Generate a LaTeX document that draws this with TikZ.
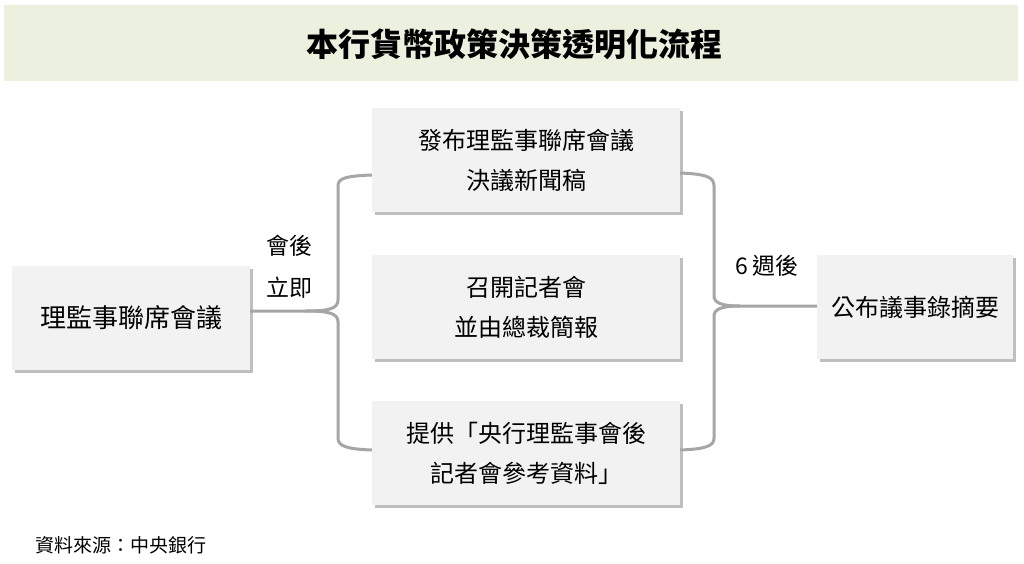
\documentclass[tikz,border=0pt]{standalone}
\usepackage{fontspec}
\setmainfont{Noto Sans CJK TC}
\usetikzlibrary{shadows}
\definecolor{titlebg}{RGB}{235,241,222}
\definecolor{boxbg}{RGB}{242,242,242}
\definecolor{linegray}{RGB}{166,166,166}
\tikzset{
  procbox/.style={draw=none, fill=boxbg, minimum height=104pt, inner sep=0pt,
    align=center, font=\fontsize{24}{40}\selectfont,
    drop shadow={shadow xshift=2.5pt, shadow yshift=-3pt, fill=black, opacity=0.25}},
  conn/.style={draw=linegray, line width=3pt, line join=round},
  lbl/.style={font=\fontsize{23}{28}\selectfont, inner sep=0pt}
}
\begin{document}
\begin{tikzpicture}[x=1pt,y=-1pt]
\useasboundingbox[fill=white] (0,0) rectangle (1024,563);
\fill[titlebg] (4,5) rectangle (1018,81);
\node[font=\fontsize{32}{36}\selectfont\bfseries] (title) at (514,44) {本行貨幣政策決策透明化流程};

\node[procbox, minimum width=238pt, font=\fontsize{26}{40}\selectfont] (L) at (131,318) {理監事聯席會議};
\node[procbox, minimum width=308pt] (B1) at (526,160) {發布理監事聯席會議\\決議新聞稿};
\node[procbox, minimum width=308pt] (B2) at (526,307) {召開記者會\\並由總裁簡報};
\node[procbox, minimum width=308pt] (B3) at (526,453) {提供「央行理監事會後\\記者會參考資料」};
\node[procbox, minimum width=196pt] (R) at (915,307) {公布議事錄摘要};

\coordinate (tipL) at (305,311);
\coordinate (tipR) at (740,306);

% left brace
\draw[conn] (L.east |- tipL) -- (tipL)
  .. controls (328,311) and (338,309) .. (338,300) -- (338,186)
  .. controls (338,178) and (346,176) .. (B1.west |- 0,175);
\draw[conn] (tipL)
  .. controls (328,311) and (338,313) .. (338,322) -- (338,438)
  .. controls (338,446) and (346,449) .. (B3.west |- 0,450);

% right brace
\draw[conn] (B1.east |- 0,173)
  .. controls (706,174) and (714,177) .. (714,186) -- (714,296)
  .. controls (714,303) and (722,306) .. (tipR) -- (R.west |- tipR);
\draw[conn] (tipR)
  .. controls (722,306) and (714,309) .. (714,316) -- (714,438)
  .. controls (714,446) and (706,449) .. (B3.east |- 0,450);

\node[lbl] (l1) at (289,246) {會後};
\node[lbl] (l2) at (289,288) {立即};
\node[lbl] (l3) at (767,266) {6 週後};

\node[anchor=west, font=\fontsize{19}{22}\selectfont, inner sep=0pt] (src) at (35,545) {資料來源：中央銀行};
\end{tikzpicture}
\end{document}
